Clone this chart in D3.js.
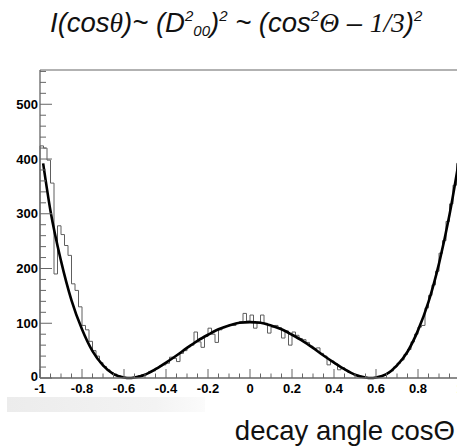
<!DOCTYPE html>
<html><head><meta charset="utf-8">
<script src="https://cdn.jsdelivr.net/npm/d3@7"></script>
<style>html,body{margin:0;padding:0;background:#fff;}svg{display:block;}</style>
</head><body>
<script>
// ---- data ----
const xDomain = [-1, 1];
const yDomain = [0, 562.6];
const xTickValues = [-1, -0.8, -0.6, -0.4, -0.2, 0, 0.2, 0.4, 0.6, 0.8, 1];
const xTickLabels = ["-1", "-0.8", "-0.6", "-0.4", "-0.2", "0", "0.2", "0.4", "0.6", "0.8", "1"];
const yTickValues = [0, 100, 200, 300, 400, 500];
const yTickLabels = ["0", "100", "200", "300", "400", "500"];
// histogram counts, 120 bins over [-1, 1]
const histCounts = [
  424, 420, 398, 356, 190, 278, 262, 242, 224, 172,
  160, 130, 96, 88, 67, 50, 40, 28, 21, 15,
  10, 7, 4, 2, 1, 0, 1, 2, 4, 6,
  8, 12, 13, 18, 22, 24, 27, 38, 36, 30,
  45, 50, 57, 60, 84, 66, 56, 76, 91, 80,
  65, 88, 92, 94, 97, 96, 100, 103, 118, 104,
  115, 91, 102, 115, 100, 82, 93, 96, 92, 73,
  86, 60, 84, 78, 72, 70, 65, 58, 54, 55,
  45, 40, 24, 31, 26, 15, 19, 14, 10, 8,
  5, 3, 1, 0, 0, 0, 1, 3, 5, 9,
  13, 20, 27, 33, 43, 52, 66, 80, 93, 96,
  128, 151, 170, 195, 228, 251, 286, 318, 352, 392
];
// fitted curve
const fitX = [-0.985, -0.95, -0.9, -0.85, -0.8, -0.75, -0.7, -0.65, -0.6, -0.575, -0.55, -0.5, -0.45, -0.4, -0.35, -0.3, -0.25, -0.2, -0.15, -0.1, -0.05, 0,
  0.05, 0.1, 0.15, 0.2, 0.25, 0.3, 0.35, 0.4, 0.45, 0.5, 0.55, 0.575, 0.6, 0.65, 0.7, 0.75, 0.8, 0.85, 0.9, 0.95, 1.0];
const fitY = [392, 305, 214, 142, 89, 49, 23, 7, 1, 0, 1, 6, 16, 28, 41, 55, 68, 79, 89, 96, 101, 102,
  101, 96, 89, 79, 68, 55, 41, 28, 16, 6, 1, 0, 1, 7, 23, 48, 87, 139, 209, 298, 409];

// ---- drawing ----
const W = 457, H = 446;
const svg = d3.select("body").append("svg").attr("width", W).attr("height", H)
  .style("font-family", "'Liberation Sans', Arial, sans-serif");

const x = d3.scaleLinear().domain(xDomain).range([40, 460]);
const y = d3.scaleLinear().domain(yDomain).range([378, 70]);

// light band under the axis
const defs = svg.append("defs");
const grad = defs.append("linearGradient").attr("id", "band").attr("x1", 0).attr("x2", 1).attr("y1", 0).attr("y2", 0);
grad.append("stop").attr("offset", "0%").attr("stop-color", "#ececec");
grad.append("stop").attr("offset", "75%").attr("stop-color", "#f3f3f3");
grad.append("stop").attr("offset", "100%").attr("stop-color", "#fbfbfb");
svg.append("rect").attr("x", 7).attr("y", 397).attr("width", 198).attr("height", 15).attr("fill", "url(#band)");

// histogram outline
const nb = histCounts.length;
const bw = (xDomain[1] - xDomain[0]) / nb;
const histPts = [];
histCounts.forEach((c, i) => {
  const lo = xDomain[0] + i * bw, hi = lo + bw;
  histPts.push([lo, c], [hi, c]);
});
histPts.unshift([xDomain[0], 0]);
histPts.push([xDomain[1], 0]);
svg.append("path")
  .attr("d", d3.line().x(d => x(d[0])).y(d => y(d[1]))(histPts))
  .attr("fill", "none").attr("stroke", "#5e5e5e").attr("stroke-width", 1);

// fit curve
svg.append("path")
  .attr("d", d3.line().curve(d3.curveMonotoneX).x((d, i) => x(fitX[i])).y(d => y(d))(fitY))
  .attr("fill", "none").attr("stroke", "#000").attr("stroke-width", 2.6);

// frame: top line
svg.append("line").attr("x1", x(-1)).attr("x2", W).attr("y1", y(yDomain[1])).attr("y2", y(yDomain[1]))
  .attr("stroke", "#666").attr("stroke-width", 1.2);

// x axis
const axisColor = "#666";
const gx = svg.append("g");
gx.append("line").attr("x1", x(-1)).attr("x2", W).attr("y1", y(0)).attr("y2", y(0))
  .attr("stroke", axisColor).attr("stroke-width", 1.3);
const xMinor = d3.range(0, 41).map(k => -1 + k * 0.05);
gx.selectAll("line.mt").data(xMinor).enter().append("line")
  .attr("x1", d => x(d)).attr("x2", d => x(d))
  .attr("y1", y(0)).attr("y2", (d, i) => i % 4 === 0 ? y(0) - 9 : y(0) - 4.5)
  .attr("stroke", axisColor).attr("stroke-width", 1);
gx.selectAll("text").data(xTickValues).enter().append("text")
  .attr("x", d => x(d)).attr("y", 393)
  .attr("text-anchor", "middle").attr("font-size", 13).attr("font-weight", "bold")
  .text((d, i) => xTickLabels[i]);

// y axis
const gy = svg.append("g");
gy.append("line").attr("x1", x(-1)).attr("x2", x(-1)).attr("y1", y(0)).attr("y2", y(yDomain[1]))
  .attr("stroke", axisColor).attr("stroke-width", 1.3);
const yMinor = d3.range(0, 29).map(k => k * 20);
gy.selectAll("line.mt").data(yMinor).enter().append("line")
  .attr("x1", x(-1)).attr("x2", (d, i) => i % 5 === 0 ? x(-1) + 12 : x(-1) + 6)
  .attr("y1", d => y(d)).attr("y2", d => y(d))
  .attr("stroke", axisColor).attr("stroke-width", 1);
gy.selectAll("text").data(yTickValues).enter().append("text")
  .attr("x", 38).attr("y", d => y(d) - (d === 0 ? 2 : 0)).attr("dy", "0.35em")
  .attr("text-anchor", "end").attr("font-size", 13).attr("font-weight", "bold")
  .text((d, i) => yTickLabels[i]);

// x axis title
svg.append("text").attr("x", 455).attr("y", 440).attr("text-anchor", "end")
  .attr("font-size", 27.5).attr("fill", "#111").text("decay angle cosΘ");

// title, flowing text with super/subscripts
const serif = "'Liberation Serif', 'Times New Roman', serif";
const base = 32, small = 15, up = 11, down = 4;
const titlePieces = [
  { s: "I(cos" }, { s: "θ", serif: true }, { s: ")~ (D" }, { s: "2", sup: true }, { s: "00", sub: true },
  { s: ")" }, { s: "2", sup: true }, { s: " ~ (cos" }, { s: "2", sup: true }, { s: "Θ", serif: true },
  { s: " – " }, { s: "1/3", serif: true }, { s: ")" }, { s: "2", sup: true }
];
const t = svg.append("text").attr("x", 50).attr("y", base)
  .attr("font-size", 27.5).attr("font-style", "italic").attr("fill", "#111")
  .style("white-space", "pre");
let cur = 0;
titlePieces.forEach(p => {
  const target = p.sup ? -up : p.sub ? down : 0;
  const ts = t.append("tspan").attr("dy", target - cur).text(p.s);
  cur = target;
  if (p.sup || p.sub) ts.attr("font-size", small);
  if (p.serif) ts.attr("font-family", serif);
});
</script>
</body></html>
